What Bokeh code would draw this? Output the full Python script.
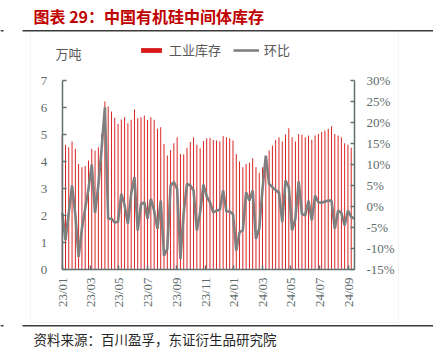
import math
import pandas as pd
from bokeh.plotting import figure
from bokeh.models import (Range1d, LinearAxis, FixedTicker, PrintfTickFormatter, Legend, LegendItem,
                          Label, BoxAnnotation, MonthsTicker, DatetimeTickFormatter)
from bokeh.embed import file_html
from bokeh.resources import INLINE

# ---------------- data ----------------
dates = pd.date_range("2022-12-31", periods=90, freq="7D")
inventory = [5.00, 4.62, 4.53, 4.74, 4.47, 3.91, 3.79, 3.83, 4.04, 4.47,
             4.41, 4.53, 5.02, 6.22, 6.04, 5.85, 5.62, 5.40, 5.56, 5.64,
             5.42, 5.55, 5.93, 5.60, 5.64, 5.70, 5.54, 5.64, 5.55, 5.21,
             5.27, 4.65, 4.22, 4.43, 4.68, 4.90, 4.28, 4.26, 4.51, 4.72,
             4.90, 4.62, 4.49, 4.76, 4.86, 4.88, 4.80, 4.78, 4.75, 4.94,
             4.90, 4.86, 4.78, 4.28, 4.00, 3.79, 3.91, 3.95, 4.12, 3.79,
             3.58, 3.79, 4.16, 4.41, 4.59, 4.80, 4.90, 4.74, 5.00, 5.23,
             4.90, 4.74, 5.02, 4.99, 4.90, 4.96, 4.81, 4.96, 5.02, 5.09,
             5.15, 5.21, 5.31, 5.02, 4.96, 4.90, 4.68, 4.62, 4.51, 4.40]
mom_pct = [-1.5, -8.0, -1.5, 5.0, -2.0, -12.0, -5.3, -0.5, 4.2, 10.0,
           -1.5, 5.0, 13.7, 23.6, -2.9, -2.9, -3.8, -3.6, 3.0, 0.3,
           -4.1, 3.0, 7.0, -5.7, 0.6, 1.0, -2.9, 1.8, -1.0, -5.3,
           1.4, -11.7, -10.1, 5.0, 5.8, 4.2, -12.5, -1.4, 5.4, 5.0,
           3.8, -5.7, -1.4, 5.2, 2.4, 1.0, -1.4, -1.0, -0.7, 3.8,
           -1.2, -1.2, -1.8, -10.5, -6.1, -5.7, 3.4, 1.4, 3.8, -7.7,
           -5.3, 4.2, 12.1, 5.4, 4.6, 3.9, 3.3, -3.7, 6.2, 4.6,
           -5.7, -2.9, 6.0, -1.8, -2.1, 1.4, -3.3, 2.6, 1.0, 0.9,
           1.2, 1.4, 1.4, -5.3, -1.0, -1.5, -4.5, -1.0, -2.5, -2.9]
left_ticks = [0, 1, 2, 3, 4, 5, 6, 7]
right_ticks = [-15, -10, -5, 0, 5, 10, 15, 20, 25, 30]
tick_months = [0, 2, 4, 6, 8, 10]

title_text = "图表 29：中国有机硅中间体库存"
unit_text = "万吨"
series_names = ["工业库存", "环比"]
source_text = "资料来源：百川盈孚，东证衍生品研究院"

# ---------------- geometry (pixels) ----------------
W, H = 433, 351
AX_L, AX_R = 61.7, 354.0      # left / right axis lines
Y0_PX, Y7_PX = 269.0, 80.0    # pixel rows of 0 and 7 on the left axis
L_MIN, L_MAX = 0.0, 7.0
R_MIN, R_MAX = -15.0, 30.0

x0 = dates[0].value / 1e6
x1 = dates[-1].value / 1e6
xs = [d.value / 1e6 for d in dates]
day_ms = 86400000.0


def xd(px):
    return x0 + (px - AX_L) * (x1 - x0) / (AX_R - AX_L)


def yd(py):
    return L_MIN + (Y0_PX - py) * (L_MAX - L_MIN) / (Y0_PX - Y7_PX)


def rd(py):
    return R_MIN + (Y0_PX - py) * (R_MAX - R_MIN) / (Y0_PX - Y7_PX)


AXIS_COLOR = "#5F7272"
LABEL_COLOR = "#5E6B6B"
SERIF = "Liberation Serif"
CJK = "Noto Sans CJK SC"

p = figure(width=W, height=H, x_axis_type="datetime", output_backend="svg", toolbar_location=None,
           x_range=Range1d(xd(0), xd(W)), y_range=Range1d(yd(H), yd(0)),
           min_border=0, min_border_left=0, min_border_right=0, min_border_top=0,
           min_border_bottom=0)
p.outline_line_color = None
p.xgrid.visible = False
p.ygrid.visible = False
p.extra_y_ranges = {"pct": Range1d(rd(H), rd(0))}

bars = p.vbar(x=xs, top=inventory, width=2.0 * day_ms, fill_color="#D81818", line_color=None)
line = p.line(x=xs, y=mom_pct, y_range_name="pct", line_color="#7F7F7F", line_width=2.6)


def style_axis(ax):
    ax.axis_line_color = AXIS_COLOR
    ax.axis_line_width = 1.5
    ax.major_tick_line_color = AXIS_COLOR
    ax.major_tick_line_width = 1.5
    ax.major_tick_in = 4
    ax.major_tick_out = 0
    ax.minor_tick_line_color = None
    ax.major_label_text_font = SERIF
    ax.major_label_text_font_size = "13px"
    ax.major_label_text_color = LABEL_COLOR


yl = p.yaxis[0]
style_axis(yl)
yl.ticker = FixedTicker(ticks=left_ticks)
yl.bounds = (L_MIN, L_MAX)
yl.fixed_location = x0
yl.major_label_standoff = 15

yr = LinearAxis(y_range_name="pct")
style_axis(yr)
yr.ticker = FixedTicker(ticks=right_ticks)
yr.formatter = PrintfTickFormatter(format="%d%%")
yr.bounds = (R_MIN, R_MAX)
yr.fixed_location = x1
yr.major_label_standoff = 12
p.add_layout(yr, "right")

xa = p.xaxis[0]
style_axis(xa)
xa.ticker = MonthsTicker(months=tick_months)
fmt = "%y/%m"
xa.formatter = DatetimeTickFormatter(years=fmt, months=fmt, days=fmt, hours=fmt, minutes=fmt,
                                     seconds=fmt, milliseconds=fmt, microseconds=fmt, hourmin=fmt,
                                     minsec=fmt)
xa.bounds = (x0, x1)
xa.fixed_location = L_MIN
xa.major_label_orientation = math.pi / 2
xa.major_label_standoff = 8

legend = Legend(items=[LegendItem(label=series_names[0], renderers=[bars]),
                       LegendItem(label=series_names[1], renderers=[line])],
                orientation="horizontal", location=(138, H - 51 - 8),
                padding=0, margin=0, spacing=12, label_standoff=5,
                glyph_width=26, glyph_height=6, label_height=16,
                border_line_color=None, background_fill_alpha=0,
                label_text_font=CJK, label_text_font_size="13px", label_text_color="#595959")
p.add_layout(legend)

# frame/decorations
p.add_layout(BoxAnnotation(left=xd(30), right=xd(398), top=yd(30), bottom=yd(322),
                           fill_alpha=0, line_color="#D9D9D9", line_width=1))
for yy in (30.2, 325.2):
    p.add_layout(BoxAnnotation(left=xd(22), right=xd(433), top=yd(yy - 0.75), bottom=yd(yy + 0.75),
                               fill_color="#3A3A3A", fill_alpha=1, line_color=None))
    p.add_layout(BoxAnnotation(left=xd(0), right=xd(3), top=yd(yy - 0.75), bottom=yd(yy + 0.75),
                               fill_color="#3A3A3A", fill_alpha=1, line_color=None))

p.add_layout(Label(x=xd(33), y=yd(15), text=title_text, text_font=CJK, text_font_size="16px",
                   text_font_style="bold", text_color="#C00000", text_baseline="middle"))
p.add_layout(Label(x=xd(55), y=yd(53), text=unit_text, text_font=CJK, text_font_size="13px",
                   text_color="#595959", text_baseline="middle"))
p.add_layout(Label(x=xd(33), y=yd(338), text=source_text, text_font=CJK, text_font_size="13.5px",
                   text_color="#262626", text_baseline="middle"))

open("out.html", "w").write(file_html(p, INLINE))
